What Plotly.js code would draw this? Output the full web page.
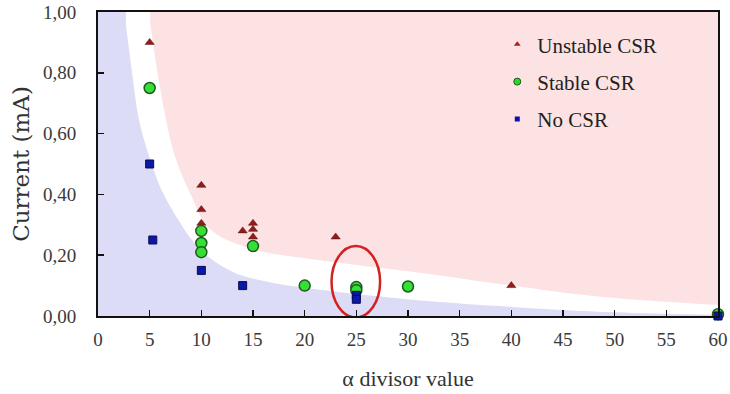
<!DOCTYPE html>
<html>
<head>
<meta charset="utf-8">
<script src="https://cdn.plot.ly/plotly-3.0.1.min.js"></script>
<style>html,body{margin:0;padding:0;background:#fff;}#chart{width:730px;height:394px;}</style>
</head>
<body>
<div id="chart"></div>
<script>
// ---- data ----
const unstableX = [5, 10, 10, 10, 14, 15, 15, 15, 23, 40];
const unstableY = [0.90, 0.43, 0.35, 0.305, 0.28, 0.305, 0.285, 0.26, 0.26, 0.10];

const stableX = [5, 10, 10, 10, 15, 20, 25, 25, 30, 60];
const stableY = [0.75, 0.28, 0.24, 0.21, 0.23, 0.10, 0.095, 0.085, 0.097, 0.006];

const noX = [5, 5.3, 10, 14, 25, 25, 60];
const noY = [0.50, 0.25, 0.15, 0.10, 0.068, 0.055, 0.0];

// region boundaries
const pinkEdgeX = [4.9, 6.0, 7.4, 9.1, 10.4, 12.0, 14.3, 16.5, 19.1, 25, 31.5, 40, 48.6, 60];
const pinkEdgeY = [1.0, 0.75, 0.53, 0.39, 0.30, 0.258, 0.227, 0.207, 0.194, 0.168, 0.141, 0.10, 0.063, 0.036];

const blueEdgeX = [2.55, 3.3, 4.0, 5.2, 6.2, 7.6, 9.1, 10.7, 13.3, 16.5, 19.1, 25, 31.5, 40, 50, 60];
const blueEdgeY = [1.0, 0.80, 0.64, 0.50, 0.41, 0.326, 0.25, 0.194, 0.141, 0.112, 0.097, 0.072, 0.05, 0.03, 0.012, 0.003];

// highlighted group (ellipse around x = 25)
const highlightX = [22.6, 27.3];
const highlightY = [-0.005, 0.23];

const xTicks = [0, 5, 10, 15, 20, 25, 30, 35, 40, 45, 50, 55, 60];
const yTicks = [0, 0.2, 0.4, 0.6, 0.8, 1.0];

const seriesNames = ['Unstable CSR', 'Stable CSR', 'No CSR'];

const xRange = [0, 60];
const yRange = [0, 1];

const serif = '"Liberation Serif", "DejaVu Serif", serif';
const wideSerif = '"DejaVu Serif", serif';

const markerStyles = [
  {symbol: 'triangle-up', size: 8, color: '#8e1d1d', line: {width: 0.5, color: '#5a0f0f'}},
  {symbol: 'circle', size: 11, color: '#33e033', line: {width: 1.5, color: '#1f5a1f'}},
  {symbol: 'square', size: 8, color: '#0a1aa8', line: {width: 1, color: '#0a0a50'}}
];
const legendMarkers = [
  {symbol: 'triangle-up', size: 6, color: '#b01c1c'},
  {symbol: 'circle', size: 7, color: '#22dd22', line: {width: 1, color: '#1f5a1f'}},
  {symbol: 'square', size: 5, color: '#1010b0'}
];

const seamOverlap = 0.15; // data units, hides the anti-aliasing seam between the two fills

function region(edgeX, edgeY, color) {
  // spline edge filled down to the x axis, plus the strip left of the edge up to the top
  return [
    {
      x: [xRange[0], edgeX[0] + seamOverlap], y: [yRange[1], yRange[1]],
      type: 'scatter', mode: 'lines', fill: 'tozeroy', fillcolor: color,
      line: {width: 0, color: 'rgba(0,0,0,0)'}, showlegend: false, hoverinfo: 'skip'
    },
    {
      x: edgeX, y: edgeY,
      type: 'scatter', mode: 'lines', fill: 'tozeroy', fillcolor: color,
      line: {width: 0, color: 'rgba(0,0,0,0)', shape: 'spline', smoothing: 0.9},
      showlegend: false, hoverinfo: 'skip'
    }
  ];
}

const traces = []
  .concat(region(pinkEdgeX, pinkEdgeY, '#ffffff'))
  .concat(region(blueEdgeX, blueEdgeY, '#dddcf6'));

const seriesX = [unstableX, stableX, noX];
const seriesY = [unstableY, stableY, noY];
seriesNames.forEach((n, i) => {
  traces.push({
    name: n, x: seriesX[i], y: seriesY[i], type: 'scatter', mode: 'markers',
    cliponaxis: false, showlegend: false, marker: markerStyles[i]
  });
});
seriesNames.forEach((n, i) => {
  traces.push({
    name: n, x: [null], y: [null], type: 'scatter', mode: 'markers',
    legendgroup: 'g' + i, showlegend: true, marker: legendMarkers[i]
  });
});

const layout = {
  width: 730, height: 394,
  margin: {l: 98, r: 12, t: 12, b: 78},
  paper_bgcolor: '#ffffff',
  plot_bgcolor: '#fde2e3',
  separators: ',.',
  font: {family: serif, color: '#333333', size: 15},
  showlegend: true,
  legend: {
    x: 0.644, y: 0.96, xanchor: 'left', yanchor: 'top',
    bgcolor: 'rgba(0,0,0,0)', borderwidth: 0,
    font: {family: serif, size: 21, color: '#222222'},
    tracegroupgap: 7, itemwidth: 30
  },
  xaxis: {
    range: xRange, tickvals: xTicks, ticktext: xTicks.map(String),
    ticks: 'inside', ticklen: 6, tickwidth: 1.5, tickcolor: '#111',
    showline: true, linecolor: '#111', linewidth: 2, mirror: true,
    showgrid: false, zeroline: false, ticklabelstandoff: 5,
    tickfont: {family: serif, size: 19, color: '#3a3a3a'},
    title: {text: 'α divisor value', font: {family: serif, size: 22, color: '#333'}, standoff: 22}
  },
  yaxis: {
    range: yRange, tickvals: yTicks, tickformat: '.2f',
    ticks: 'inside', ticklen: 6, tickwidth: 1.5, tickcolor: '#111',
    showline: true, linecolor: '#111', linewidth: 2, mirror: true,
    showgrid: false, zeroline: false, ticklabelstandoff: 16,
    tickfont: {family: serif, size: 19, color: '#3a3a3a'},
    title: {text: 'Current (mA)', font: {family: wideSerif, size: 23, color: '#333'}, standoff: 7}
  },
  shapes: [{
    type: 'circle', xref: 'x', yref: 'y',
    x0: highlightX[0], x1: highlightX[1], y0: highlightY[0], y1: highlightY[1],
    line: {color: '#d42020', width: 2.5}, layer: 'above'
  }]
};

Plotly.newPlot('chart', traces, layout, {displayModeBar: false, staticPlot: true});
</script>
</body>
</html>
